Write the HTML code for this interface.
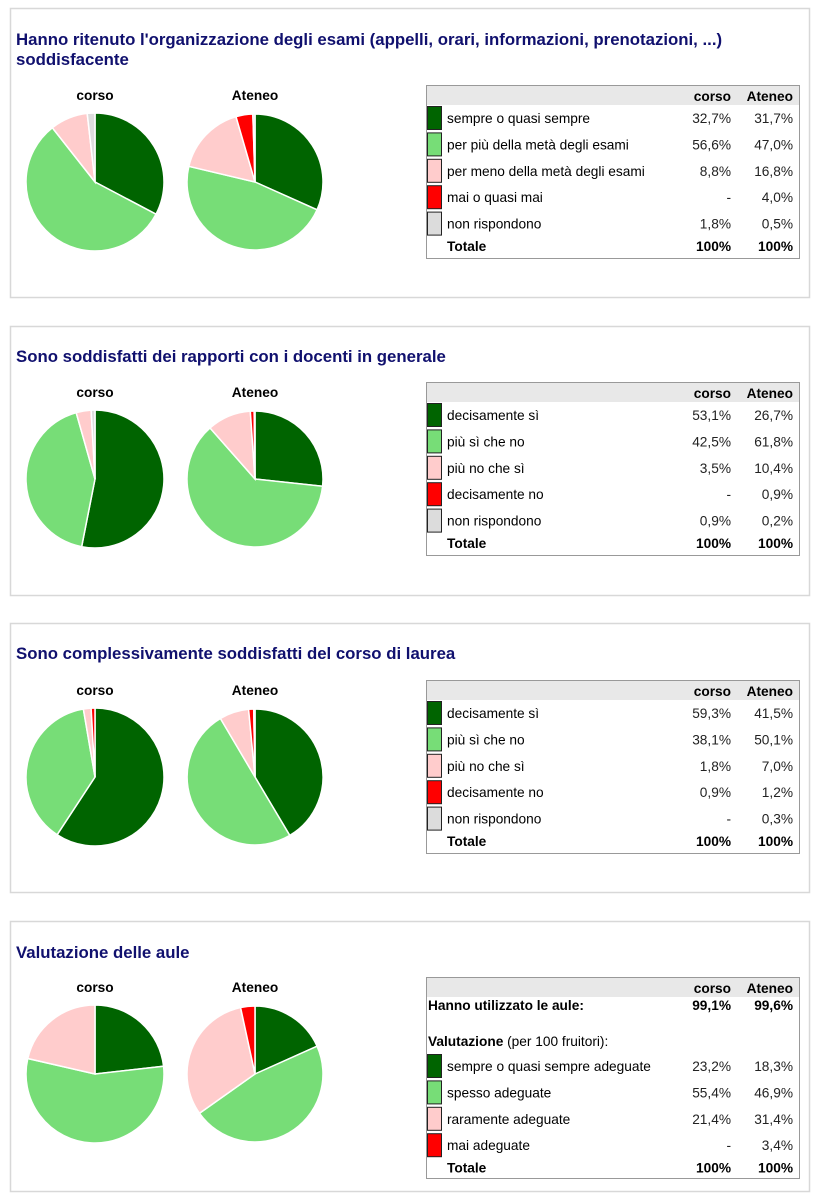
<!DOCTYPE html>
<html><head><meta charset="utf-8">
<style>
html,body{margin:0;padding:0;background:#fff;width:818px;height:1200px;overflow:hidden}
svg{display:block}
text{font-family:"Liberation Sans",Arial,sans-serif}
</style></head>
<body>
<svg id="s" width="818" height="1200" xmlns="http://www.w3.org/2000/svg"></svg>
<script>
var C=['#006400','#77dd77','#ffcccc','#ff0000','#dcdcdc'];
var out='';
var FS=13.7;
function pie(cx,cy,r,vals){
  var a=0,tot=0;vals.forEach(function(v){tot+=v});
  vals.forEach(function(v,i){
    if(v<=0)return;
    var a2=a+v/tot*2*Math.PI;
    var x1=cx+r*Math.sin(a),y1=cy-r*Math.cos(a),x2=cx+r*Math.sin(a2),y2=cy-r*Math.cos(a2);
    out+='<path d="M'+cx+','+cy+' L'+x1.toFixed(2)+','+y1.toFixed(2)+' A'+r+','+r+' 0 '+((a2-a)>Math.PI?1:0)+' 1 '+x2.toFixed(2)+','+y2.toFixed(2)+' Z" fill="'+C[i]+'" stroke="#fff" stroke-width="1.5"/>';
    a=a2;
  });
}
function T(x,y,s,o){o=o||{};out+='<text x="'+x+'" y="'+y+'" font-size="'+(o.fs||FS)+'" fill="'+(o.c||'#000')+'"'+(o.b?' font-weight="bold"':'')+(o.e?' text-anchor="end"':'')+(o.m?' text-anchor="middle"':'')+'>'+s+'</text>';}
function panel(top,bot,titles,tt,vc,va,rows,tableTop,special){
  out+='<rect x="10.5" y="'+(top+.5)+'" width="799" height="'+(bot-top)+'" fill="#fff" stroke="#d8d8d8" stroke-width="1.5"/>';
  titles.forEach(function(t,i){T(16,tt+i*20,t,{fs:16.8,b:1,c:'#10106e'});});
  var pc=tableTop+97;
  T(95,tableTop+15,'corso',{b:1,m:1});
  T(255,tableTop+15,'Ateneo',{b:1,m:1});
  pie(95,pc,69,vc);pie(255,pc,68,va);
  var h=special?201:173;
  out+='<rect x="426.5" y="'+(tableTop+.5)+'" width="373" height="'+h+'" fill="#fff" stroke="#999" stroke-width="1"/>';
  out+='<rect x="427" y="'+(tableTop+1)+'" width="372" height="19" fill="#e8e8e8"/>';
  T(731,tableTop+16,'corso',{b:1,e:1});T(793,tableTop+16,'Ateneo',{b:1,e:1});
  var y=tableTop+33;
  if(special){
    T(428,y,'Hanno utilizzato le aule:',{b:1});T(731,y,'99,1%',{b:1,e:1});T(793,y,'99,6%',{b:1,e:1});
    out+='<text x="428" y="'+(y+36)+'" font-size="'+FS+'"><tspan font-weight="bold">Valutazione</tspan> (per 100 fruitori):</text>';
    y+=56;
  }
  rows.forEach(function(r,i){
    var ry=y+i*26.4;
    out+='<rect x="427.5" y="'+(ry-11.5)+'" width="14" height="23" fill="'+C[i]+'" stroke="#222" stroke-width="1"/>';
    T(447,ry+5,r[0]);T(731,ry+5,r[1],{e:1,c:'#222'});T(793,ry+5,r[2],{e:1,c:'#222'});
  });
  var ty=y+rows.length*26.4-4;
  T(447,ty+5,'Totale',{b:1});T(731,ty+5,'100%',{b:1,e:1});T(793,ty+5,'100%',{b:1,e:1});
}
panel(8,297,["Hanno ritenuto l'organizzazione degli esami (appelli, orari, informazioni, prenotazioni, ...)","soddisfacente"],45,
 [32.7,56.6,8.8,0,1.8],[31.7,47.0,16.8,4.0,0.5],
 [['sempre o quasi sempre','32,7%','31,7%'],['per più della metà degli esami','56,6%','47,0%'],['per meno della metà degli esami','8,8%','16,8%'],['mai o quasi mai','-','4,0%'],['non rispondono','1,8%','0,5%']],85);
panel(326,595,["Sono soddisfatti dei rapporti con i docenti in generale"],362,
 [53.1,42.5,3.5,0,0.9],[26.7,61.8,10.4,0.9,0.2],
 [['decisamente sì','53,1%','26,7%'],['più sì che no','42,5%','61,8%'],['più no che sì','3,5%','10,4%'],['decisamente no','-','0,9%'],['non rispondono','0,9%','0,2%']],382);
panel(623,892,["Sono complessivamente soddisfatti del corso di laurea"],659,
 [59.3,38.1,1.8,0.9,0],[41.5,50.1,7.0,1.2,0.3],
 [['decisamente sì','59,3%','41,5%'],['più sì che no','38,1%','50,1%'],['più no che sì','1,8%','7,0%'],['decisamente no','0,9%','1,2%'],['non rispondono','-','0,3%']],680);
panel(921,1191,["Valutazione delle aule"],958,
 [23.2,55.4,21.4,0],[18.3,46.9,31.4,3.4],
 [['sempre o quasi sempre adeguate','23,2%','18,3%'],['spesso adeguate','55,4%','46,9%'],['raramente adeguate','21,4%','31,4%'],['mai adeguate','-','3,4%']],977,true);
document.getElementById('s').innerHTML=out;
</script>
</body></html>
